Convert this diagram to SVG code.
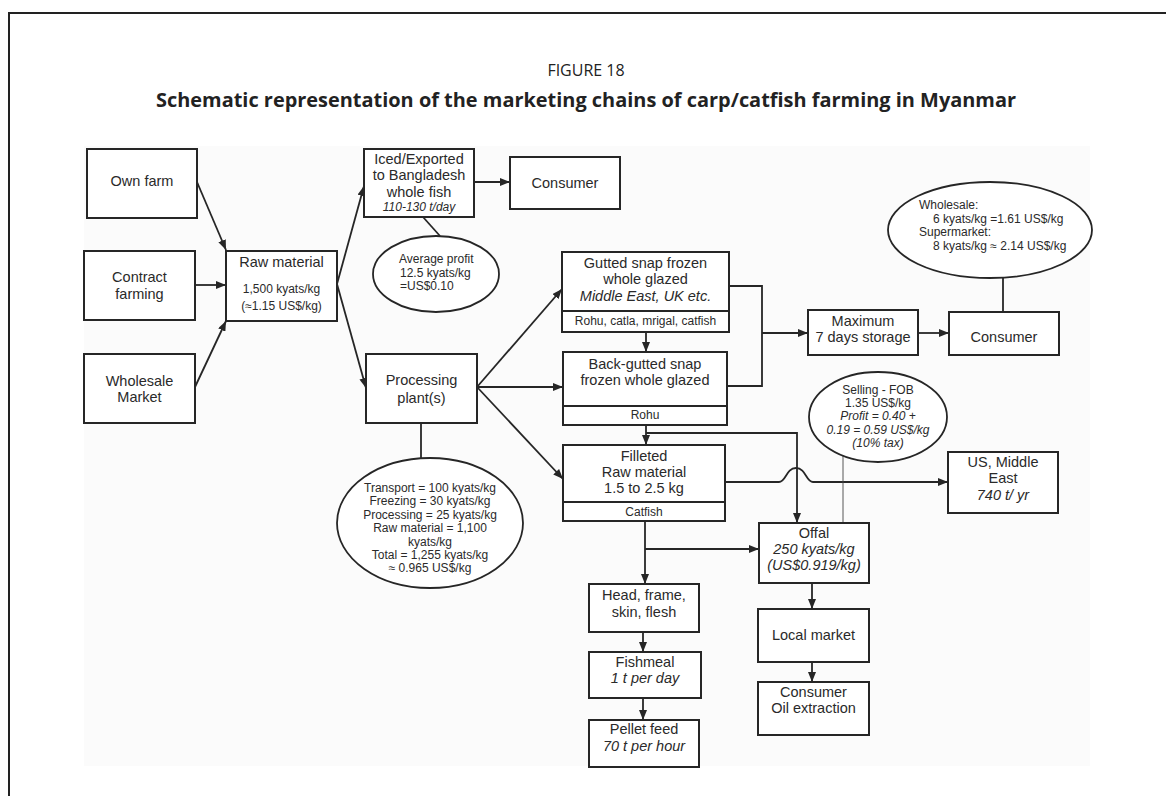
<svg xmlns="http://www.w3.org/2000/svg" width="1166" height="796" viewBox="0 0 1166 796">
<style>
.box{fill:#fff;stroke:#262626;stroke-width:2}
.ell{fill:#fff;stroke:#262626;stroke-width:1.8}
.ln{fill:none;stroke:#262626;stroke-width:1.8}
.thin{fill:none;stroke:#444;stroke-width:0.9}
.t{font-family:"Liberation Sans",Arial,sans-serif;font-size:14.5px;fill:#2a2a2a;text-anchor:middle}
.s{font-family:"Liberation Sans",Arial,sans-serif;font-size:12px;fill:#2a2a2a;text-anchor:middle}
.l{text-anchor:start}
.i{font-style:italic}
.hd{font-family:"Open Sans","Noto Sans",sans-serif;fill:#222;text-anchor:middle}
</style>
<defs>
<marker id="ah" markerUnits="userSpaceOnUse" markerWidth="10" markerHeight="8" refX="10" refY="4" orient="auto">
<path d="M0,0 L10,4 L0,8 z" fill="#262626"/>
</marker>
<marker id="ahs" markerUnits="userSpaceOnUse" markerWidth="7" markerHeight="6" refX="7" refY="3" orient="auto">
<path d="M0,0 L7,3 L0,6 z" fill="#333"/>
</marker>
</defs>
<rect x="0" y="0" width="1166" height="796" fill="#fff"/>
<path d="M9,796 V13 H1166" fill="none" stroke="#222" stroke-width="2"/>
<rect x="84" y="146" width="1006" height="620" fill="#fbfbfb"/>
<text class="hd" x="586" y="76" font-size="16">FIGURE 18</text>
<text class="hd" x="586" y="107" font-size="19.5" font-weight="bold" textLength="860" lengthAdjust="spacingAndGlyphs">Schematic representation of the marketing chains of carp/catfish farming in Myanmar</text>

<g id="connectors">
<path class="ln" d="M197,182 L226,250" marker-end="url(#ah)"/>
<path class="ln" d="M195,285 H226" marker-end="url(#ah)"/>
<path class="ln" d="M195,387 L226,321" marker-end="url(#ah)"/>
<path class="ln" d="M337,284 L364,186" marker-end="url(#ah)"/>
<path class="ln" d="M337,284 L366,388" marker-end="url(#ah)"/>
<path class="ln" d="M474,182 H510" marker-end="url(#ah)"/>
<path class="ln" d="M423,217 L440,236"/>
<path class="ln" d="M477,387 L562,289" marker-end="url(#ah)"/>
<path class="ln" d="M477,387 H563" marker-end="url(#ah)"/>
<path class="ln" d="M477,387 L563,479" marker-end="url(#ah)"/>
<path class="ln" d="M421,423 V458"/>
<path class="ln" d="M646,332 V352" marker-end="url(#ah)"/>
<path class="ln" d="M729,286 H762 V386 H727"/>
<path class="ln" d="M762,333 H808" marker-end="url(#ah)"/>
<path class="ln" d="M918,333 H949" marker-end="url(#ah)"/>
<path class="ln" d="M1003,278 V312"/>
<path class="ln" d="M646,425 V445" marker-end="url(#ah)"/>
<path class="ln" d="M646,433 H797 V523" marker-end="url(#ah)"/>
<path class="ln" d="M725,482 H779 C786,482 786,468 796,468 C806,468 806,482 813,482 H948" marker-end="url(#ah)"/>
<path class="thin" d="M843,523 V437" marker-end="url(#ahs)"/>
<path class="ln" d="M645,521 V584" marker-end="url(#ah)"/>
<path class="ln" d="M645,549 H759" marker-end="url(#ah)"/>
<path class="ln" d="M643,632 V652" marker-end="url(#ah)"/>
<path class="ln" d="M643,698 V720" marker-end="url(#ah)"/>
<path class="ln" d="M812,583 V609" marker-end="url(#ah)"/>
<path class="ln" d="M812,662 V682" marker-end="url(#ah)"/>
</g>

<g id="own-farm"><rect class="box" x="87" y="149" width="110" height="69"/><text class="t" x="142" y="186">Own farm</text></g>
<g id="contract-farming"><rect class="box" x="84" y="251" width="111" height="69"/><text class="t" x="139.5" y="282">Contract</text><text class="t" x="139.5" y="299">farming</text></g>
<g id="wholesale-market"><rect class="box" x="84" y="354" width="111" height="69"/><text class="t" x="139.5" y="386">Wholesale</text><text class="t" x="139.5" y="402">Market</text></g>
<g id="raw-material"><rect class="box" x="226" y="251" width="111" height="70"/><text class="t" x="281.5" y="267">Raw material</text><text class="s" x="281.5" y="293">1,500 kyats/kg</text><text class="s" x="281.5" y="310">(≈1.15 US$/kg)</text></g>
<g id="iced-exported"><rect class="box" x="364" y="149" width="110" height="68"/><text class="t" x="419" y="164">Iced/Exported</text><text class="t" x="419" y="180">to Bangladesh</text><text class="t" x="419" y="197">whole fish</text><text class="s i" x="419" y="211">110-130 t/day</text></g>
<g id="consumer-1"><rect class="box" x="510" y="157" width="110" height="52"/><text class="t" x="565" y="188">Consumer</text></g>
<g id="average-profit"><ellipse class="ell" cx="436" cy="274" rx="63" ry="38"/><text class="s l" x="399" y="263">Average profit</text><text class="s l" x="400" y="277">12.5 kyats/kg</text><text class="s l" x="400" y="290">=US$0.10</text></g>
<g id="processing-plant"><rect class="box" x="366" y="354" width="111" height="69"/><text class="t" x="421.5" y="385">Processing</text><text class="t" x="421.5" y="403">plant(s)</text></g>
<g id="cost-ellipse"><ellipse class="ell" cx="430" cy="523" rx="93" ry="65"/><text class="s" x="430" y="492">Transport = 100 kyats/kg</text><text class="s" x="430" y="505">Freezing = 30 kyats/kg</text><text class="s" x="430" y="519">Processing = 25 kyats/kg</text><text class="s" x="430" y="532">Raw material = 1,100</text><text class="s" x="430" y="546">kyats/kg</text><text class="s" x="430" y="559">Total = 1,255 kyats/kg</text><text class="s" x="430" y="572">≈ 0.965 US$/kg</text></g>
<g id="gutted"><rect class="box" x="562" y="252" width="167" height="80"/><line class="ln" x1="562" y1="311" x2="729" y2="311"/><text class="t" x="645.5" y="268">Gutted snap frozen</text><text class="t" x="645.5" y="284">whole glazed</text><text class="t i" x="645.5" y="301">Middle East, UK etc.</text><text class="s" x="645.5" y="325">Rohu, catla, mrigal, catfish</text></g>
<g id="back-gutted"><rect class="box" x="563" y="352" width="164" height="73"/><line class="ln" x1="563" y1="406" x2="727" y2="406"/><text class="t" x="645" y="369">Back-gutted snap</text><text class="t" x="645" y="385">frozen whole glazed</text><text class="s" x="645" y="419">Rohu</text></g>
<g id="maximum-storage"><rect class="box" x="808" y="310" width="110" height="45"/><text class="t" x="863" y="326">Maximum</text><text class="t" x="863" y="342">7 days storage</text></g>
<g id="consumer-2"><rect class="box" x="949" y="312" width="110" height="43"/><text class="t" x="1004" y="342">Consumer</text></g>
<g id="price-ellipse"><ellipse class="ell" cx="990" cy="230" rx="102" ry="48"/><text class="s l" x="919" y="209">Wholesale:</text><text class="s l" x="933" y="223">6 kyats/kg =1.61 US$/kg</text><text class="s l" x="919" y="236">Supermarket:</text><text class="s l" x="933" y="250">8 kyats/kg ≈ 2.14 US$/kg</text></g>
<g id="filleted"><rect class="box" x="563" y="445" width="162" height="76"/><line class="ln" x1="563" y1="502" x2="725" y2="502"/><text class="t" x="644" y="461">Filleted</text><text class="t" x="644" y="477">Raw material</text><text class="t" x="644" y="493">1.5 to 2.5 kg</text><text class="s" x="644" y="516">Catfish</text></g>
<g id="us-middle-east"><rect class="box" x="948" y="452" width="110" height="61"/><text class="t" x="1003" y="467">US, Middle</text><text class="t" x="1003" y="483">East</text><text class="t i" x="1003" y="500">740 t/ yr</text></g>
<g id="selling-fob"><ellipse class="ell" cx="878" cy="417" rx="69" ry="45"/><text class="s" x="878" y="394">Selling - FOB</text><text class="s" x="878" y="407">1.35 US$/kg</text><text class="s i" x="878" y="420">Profit = 0.40 +</text><text class="s i" x="878" y="434">0.19 = 0.59 US$/kg</text><text class="s i" x="878" y="447">(10% tax)</text></g>
<g id="offal"><rect class="box" x="759" y="523" width="110" height="60"/><text class="t" x="814" y="538">Offal</text><text class="t i" x="814" y="554">250 kyats/kg</text><text class="t i" x="814" y="570">(US$0.919/kg)</text></g>
<g id="head-frame"><rect class="box" x="589" y="584" width="110" height="48"/><text class="t" x="644" y="600">Head, frame,</text><text class="t" x="644" y="617">skin, flesh</text></g>
<g id="fishmeal"><rect class="box" x="589" y="652" width="112" height="46"/><text class="t" x="645" y="667">Fishmeal</text><text class="t i" x="645" y="683">1 t per day</text></g>
<g id="pellet-feed"><rect class="box" x="589" y="720" width="110" height="47"/><text class="t" x="644" y="734">Pellet feed</text><text class="t i" x="644" y="751">70 t per hour</text></g>
<g id="local-market"><rect class="box" x="758" y="609" width="111" height="53"/><text class="t" x="813.5" y="640">Local market</text></g>
<g id="consumer-oil"><rect class="box" x="758" y="682" width="111" height="53"/><text class="t" x="813.5" y="697">Consumer</text><text class="t" x="813.5" y="713">Oil extraction</text></g>
</svg>
